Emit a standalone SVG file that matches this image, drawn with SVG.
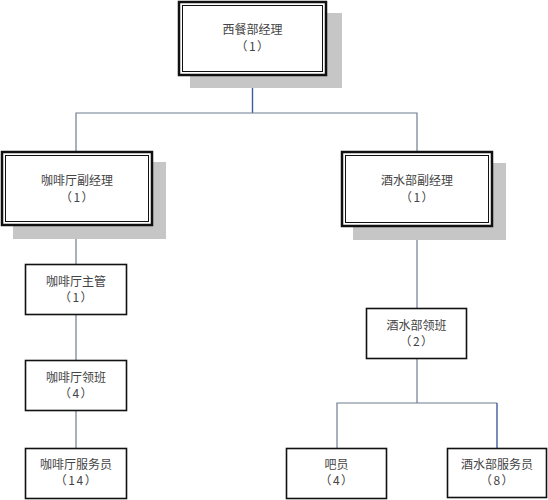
<svg xmlns="http://www.w3.org/2000/svg" width="548" height="500" viewBox="0 0 548 500">
<style>
.shadow{fill:#c6c6c6;stroke:none}
.outer{fill:#fff;stroke:#111;stroke-width:2.5}
.inner{fill:none;stroke:#111;stroke-width:1}
.box{fill:#fff;stroke:#111;stroke-width:1.6}
.t{font-family:"Noto Sans CJK SC","Liberation Serif",serif;font-size:12px;fill:#444;text-anchor:middle}
.p{letter-spacing:1.5px}
.ln{fill:none;stroke:#6f7c90;stroke-width:1.2}
.lb{fill:none;stroke:#3e5c9a;stroke-width:1.4}
</style>
<rect width="548" height="500" fill="#fff"/>
<g id="connectors">
<path class="lb" d="M252.5 76V113"/>
<path class="ln" d="M76 151V113H417V151"/>
<path class="ln" d="M76 226V264M76 315V360M76 411V448"/>
<path class="ln" d="M417 227V308M417 359V403"/>
<path class="ln" d="M337 448V403H497"/>
<path class="lb" d="M497 403V448"/>
</g>
<g id="n-top">
<rect class="shadow" x="190" y="13" width="152" height="75"/>
<rect class="outer" x="179" y="2" width="147" height="73"/>
<rect class="inner" x="182.5" y="5.5" width="140" height="66"/>
<text class="t" x="252.5" y="34">西餐部经理</text>
<text class="t p" x="253" y="51">（1）</text>
</g>
<g id="n-coffee-dep">
<rect class="shadow" x="13" y="162" width="153" height="77"/>
<rect class="outer" x="2" y="152" width="150" height="73"/>
<rect class="inner" x="5.5" y="155.5" width="143" height="66"/>
<text class="t" x="77" y="185">咖啡厅副经理</text>
<text class="t p" x="77.5" y="202">（1）</text>
</g>
<g id="n-wine-dep">
<rect class="shadow" x="353" y="163" width="153" height="77"/>
<rect class="outer" x="342" y="152" width="150" height="74"/>
<rect class="inner" x="345.5" y="155.5" width="143" height="67"/>
<text class="t" x="417" y="185">酒水部副经理</text>
<text class="t p" x="417.5" y="202">（1）</text>
</g>
<g id="n-coffee-sup">
<rect class="box" x="25.5" y="264.5" width="101" height="50"/>
<text class="t" x="76" y="286">咖啡厅主管</text>
<text class="t p" x="76.5" y="302">（1）</text>
</g>
<g id="n-coffee-lead">
<rect class="box" x="25.5" y="360.5" width="101" height="50"/>
<text class="t" x="76" y="382">咖啡厅领班</text>
<text class="t p" x="76.5" y="398">（4）</text>
</g>
<g id="n-coffee-staff">
<rect class="box" x="25.5" y="448.5" width="101" height="50"/>
<text class="t" x="76" y="469">咖啡厅服务员</text>
<text class="t p" x="76.5" y="485">（14）</text>
</g>
<g id="n-wine-lead">
<rect class="box" x="366.5" y="308.5" width="100" height="50"/>
<text class="t" x="416.5" y="330">酒水部领班</text>
<text class="t p" x="417" y="346">（2）</text>
</g>
<g id="n-bar">
<rect class="box" x="286.5" y="448.5" width="100" height="50"/>
<text class="t" x="336.5" y="469">吧员</text>
<text class="t p" x="337" y="485">（4）</text>
</g>
<g id="n-wine-staff">
<rect class="box" x="447.5" y="448.5" width="99" height="49"/>
<text class="t" x="497" y="469">酒水部服务员</text>
<text class="t p" x="497.5" y="485">（8）</text>
</g>
</svg>
